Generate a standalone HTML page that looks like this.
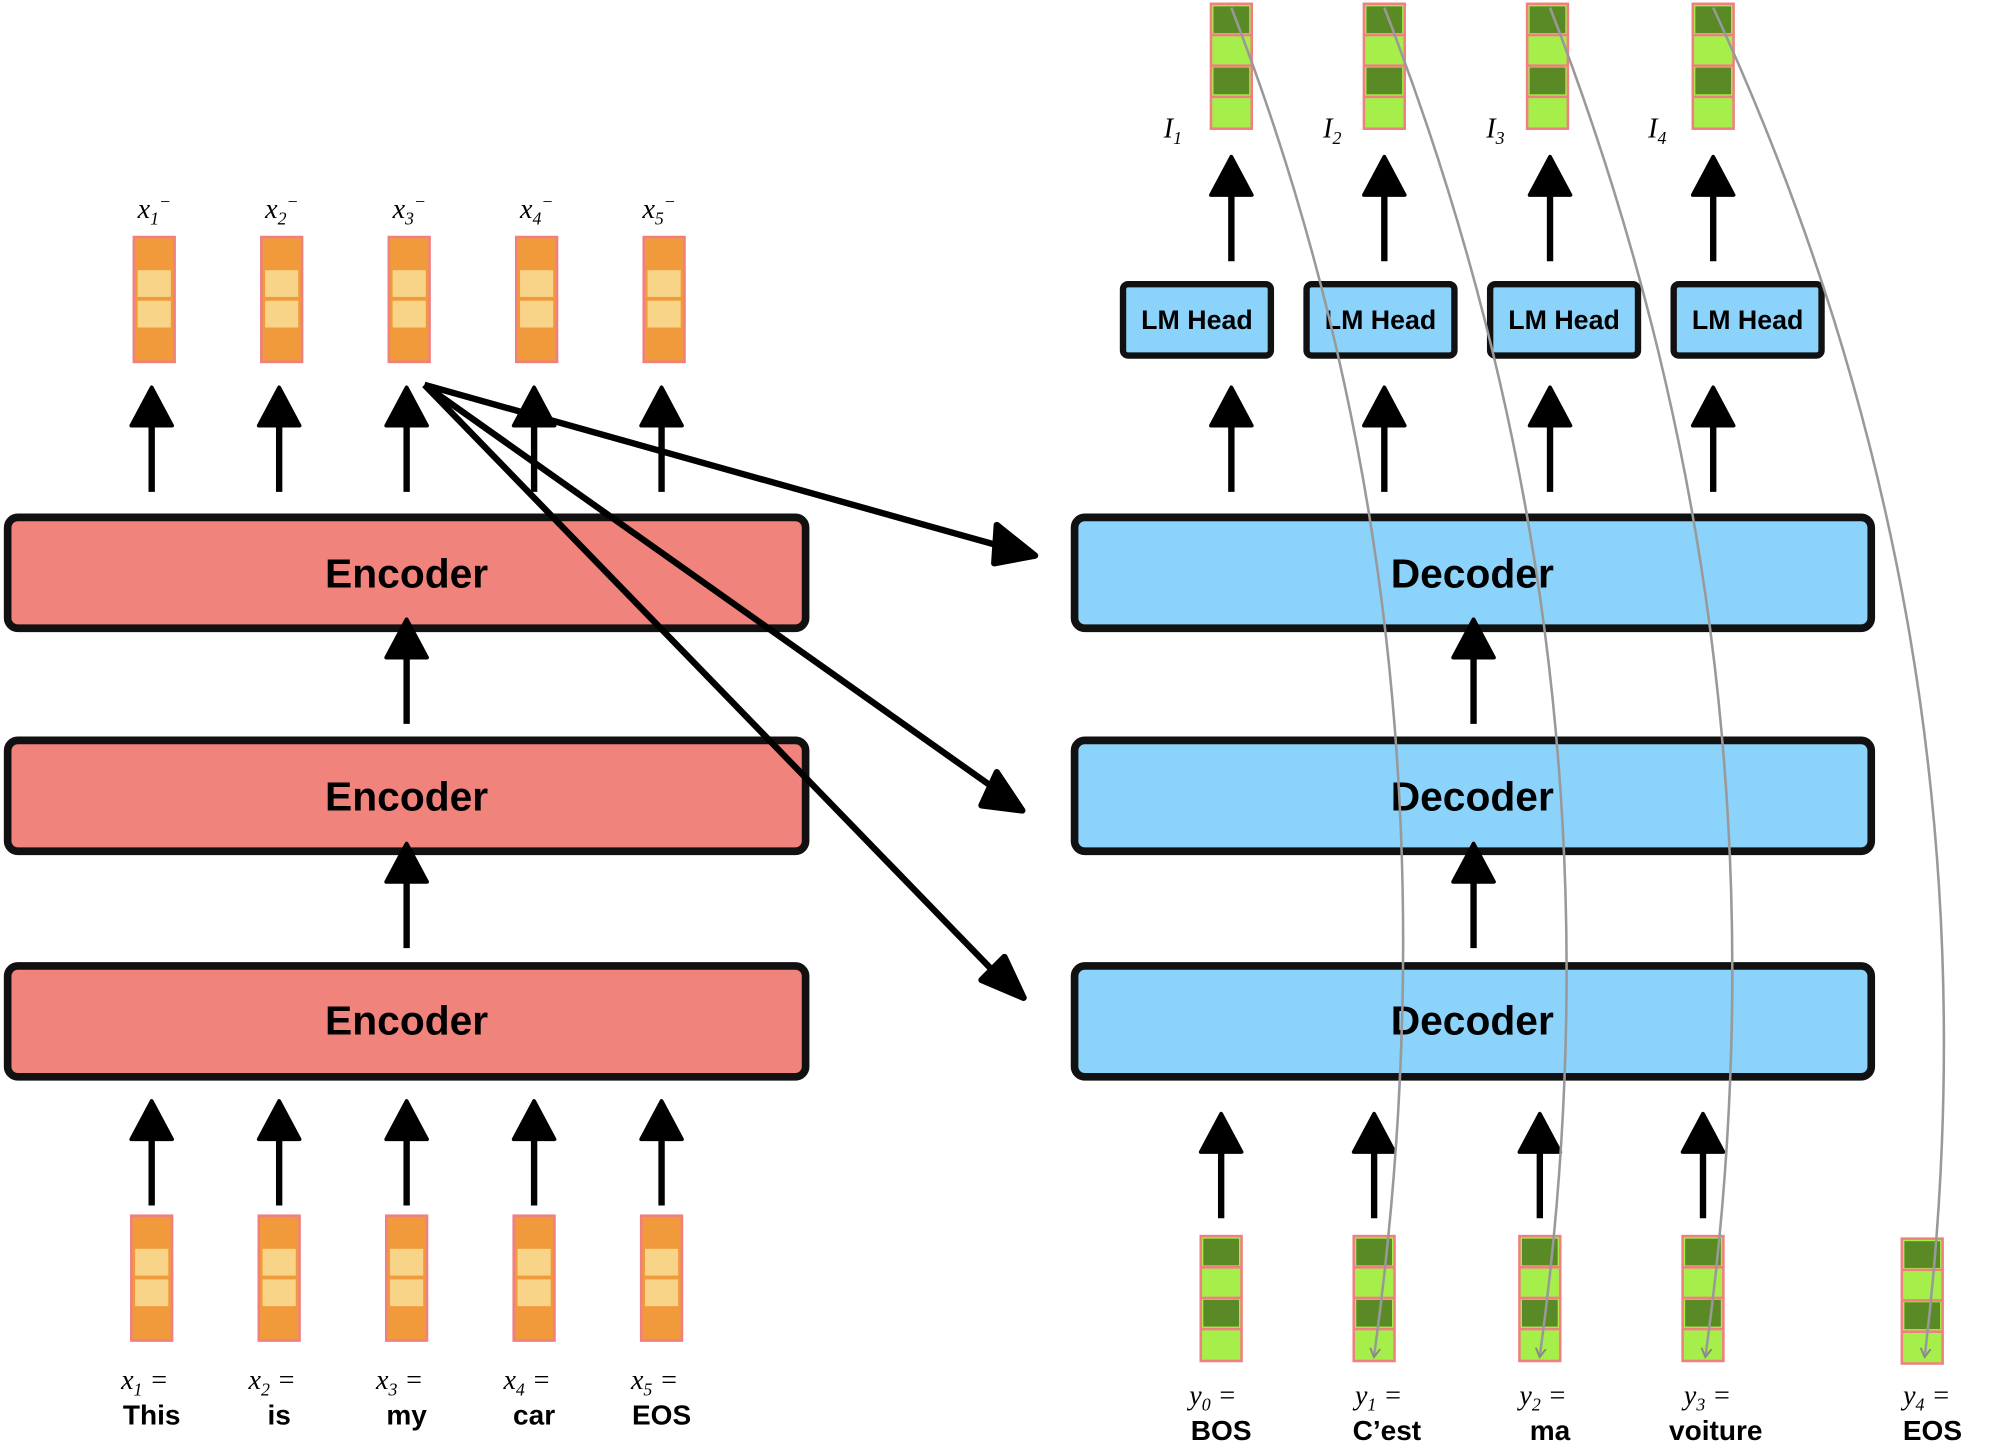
<!DOCTYPE html>
<html><head><meta charset="utf-8"><style>
html,body{margin:0;padding:0;background:#fff}
svg{display:block}
.b{font-family:"Liberation Sans","DejaVu Sans",sans-serif;font-weight:bold;fill:#000}
.m{font-family:"Liberation Serif",serif;font-style:italic;fill:#000}
</style></head><body>
<svg width="2000" height="1454" viewBox="0 0 1569 1141" preserveAspectRatio="none" xmlns="http://www.w3.org/2000/svg">
<defs>
<marker id="ga" markerWidth="8" markerHeight="10" refX="6" refY="5" orient="auto" markerUnits="userSpaceOnUse"><path d="M0,1 L7,5 L0,9" fill="none" stroke="#888" stroke-width="1.5"/></marker>
<g id="ov"><rect x="0" y="0" width="32" height="98" fill="#f09a3c" stroke="#f08080" stroke-width="2"/><rect x="3" y="26" width="26" height="21" fill="#f7d488"/><rect x="3" y="50" width="26" height="21" fill="#f7d488"/></g>
<g id="gv"><rect x="0" y="0" width="32" height="98" fill="#a6ef4a" stroke="#f08080" stroke-width="2"/><rect x="2" y="2" width="28" height="21" fill="#5a8a26"/><rect x="2" y="50" width="28" height="21" fill="#5a8a26"/><line x1="0" y1="24.5" x2="32" y2="24.5" stroke="#f08080" stroke-width="2"/><line x1="0" y1="48.5" x2="32" y2="48.5" stroke="#f08080" stroke-width="2"/><line x1="0" y1="73" x2="32" y2="73" stroke="#f08080" stroke-width="2"/></g>
<g id="up"><line x1="0" y1="0" x2="0" y2="-58" stroke="#000" stroke-width="5"/><path d="M-16,-52 L0,-82 L16,-52 z" fill="#000" stroke="#000" stroke-width="3" stroke-linejoin="round"/></g>
</defs>

<g stroke="#111" stroke-width="6" fill="#f0837c">
<rect x="6" y="406" width="626" height="87" rx="8"/>
<rect x="6" y="581" width="626" height="87" rx="8"/>
<rect x="6" y="758" width="626" height="87" rx="8"/>
</g>
<g class="b" font-size="32" text-anchor="middle">
<text x="319" y="461">Encoder</text><text x="319" y="636">Encoder</text><text x="319" y="812">Encoder</text>
</g>
<g stroke="#111" stroke-width="6" fill="#8bd3fa">
<rect x="843" y="406" width="625" height="87" rx="8"/>
<rect x="843" y="581" width="625" height="87" rx="8"/>
<rect x="843" y="758" width="625" height="87" rx="8"/>
</g>
<g class="b" font-size="32" text-anchor="middle">
<text x="1155" y="461">Decoder</text><text x="1155" y="636">Decoder</text><text x="1155" y="812">Decoder</text>
</g>
<g stroke="#111" stroke-width="5" fill="#8bd3fa">
<rect x="881" y="223" width="116" height="56" rx="4"/>
<rect x="1025" y="223" width="116" height="56" rx="4"/>
<rect x="1169" y="223" width="116" height="56" rx="4"/>
<rect x="1313" y="223" width="116" height="56" rx="4"/>
</g>
<g class="b" font-size="21" text-anchor="middle">
<text x="939" y="258">LM Head</text><text x="1083" y="258">LM Head</text><text x="1227" y="258">LM Head</text><text x="1371" y="258">LM Head</text>
</g>

<use href="#ov" x="105" y="186"/><use href="#ov" x="205" y="186"/><use href="#ov" x="305" y="186"/><use href="#ov" x="405" y="186"/><use href="#ov" x="505" y="186"/>
<use href="#ov" x="103" y="954"/><use href="#ov" x="203" y="954"/><use href="#ov" x="303" y="954"/><use href="#ov" x="403" y="954"/><use href="#ov" x="503" y="954"/>
<use href="#gv" x="950" y="3"/><use href="#gv" x="1070" y="3"/><use href="#gv" x="1198" y="3"/><use href="#gv" x="1328" y="3"/>
<use href="#gv" x="942" y="970"/><use href="#gv" x="1062" y="970"/><use href="#gv" x="1192" y="970"/><use href="#gv" x="1320" y="970"/><use href="#gv" x="1492" y="972"/>

<use href="#up" x="119" y="386"/><use href="#up" x="219" y="386"/><use href="#up" x="319" y="386"/><use href="#up" x="419" y="386"/><use href="#up" x="519" y="386"/>
<use href="#up" x="319" y="568"/><use href="#up" x="319" y="744"/>
<use href="#up" x="119" y="946"/><use href="#up" x="219" y="946"/><use href="#up" x="319" y="946"/><use href="#up" x="419" y="946"/><use href="#up" x="519" y="946"/>
<use href="#up" x="966" y="205"/><use href="#up" x="1086" y="205"/><use href="#up" x="1216" y="205"/><use href="#up" x="1344" y="205"/>
<use href="#up" x="966" y="386"/><use href="#up" x="1086" y="386"/><use href="#up" x="1216" y="386"/><use href="#up" x="1344" y="386"/>
<use href="#up" x="1156" y="568"/><use href="#up" x="1156" y="744"/>
<use href="#up" x="958" y="956"/><use href="#up" x="1078" y="956"/><use href="#up" x="1208" y="956"/><use href="#up" x="1336" y="956"/>

<g stroke="#000" stroke-width="5" fill="#000">
<line x1="333" y1="302" x2="790" y2="430"/>
<line x1="333" y1="302" x2="782" y2="620"/>
<line x1="333" y1="302" x2="785" y2="768"/>
<path d="M812,436 L782,412 L780,442 z" stroke-linejoin="round"/>
<path d="M802,636 L782,606 L770,632 z" stroke-linejoin="round"/>
<path d="M803,783 L788,751 L770,769 z" stroke-linejoin="round"/>
</g>

<g fill="none" stroke="#999" stroke-width="2" marker-end="url(#ga)">
<path d="M966,6 C1080,300 1135,650 1078,1064"/>
<path d="M1086,6 C1200,300 1265,650 1208,1064"/>
<path d="M1216,6 C1330,300 1395,650 1338,1064"/>
<path d="M1344,6 C1480,300 1560,650 1510,1064"/>
</g>

<g class="m" font-size="22">
<text x="108" y="171">x<tspan font-size="14" dy="5">1</tspan><tspan font-size="14" dy="-13">−</tspan></text>
<text x="208" y="171">x<tspan font-size="14" dy="5">2</tspan><tspan font-size="14" dy="-13">−</tspan></text>
<text x="308" y="171">x<tspan font-size="14" dy="5">3</tspan><tspan font-size="14" dy="-13">−</tspan></text>
<text x="408" y="171">x<tspan font-size="14" dy="5">4</tspan><tspan font-size="14" dy="-13">−</tspan></text>
<text x="504" y="171">x<tspan font-size="14" dy="5">5</tspan><tspan font-size="14" dy="-13">−</tspan></text>
<text x="913" y="108">I<tspan font-size="14" dy="5">1</tspan></text>
<text x="1038" y="108">I<tspan font-size="14" dy="5">2</tspan></text>
<text x="1166" y="108">I<tspan font-size="14" dy="5">3</tspan></text>
<text x="1293" y="108">I<tspan font-size="14" dy="5">4</tspan></text>
<text x="95" y="1090">x<tspan font-size="14" dy="5">1</tspan><tspan dy="-5"> =</tspan></text>
<text x="195" y="1090">x<tspan font-size="14" dy="5">2</tspan><tspan dy="-5"> =</tspan></text>
<text x="295" y="1090">x<tspan font-size="14" dy="5">3</tspan><tspan dy="-5"> =</tspan></text>
<text x="395" y="1090">x<tspan font-size="14" dy="5">4</tspan><tspan dy="-5"> =</tspan></text>
<text x="495" y="1090">x<tspan font-size="14" dy="5">5</tspan><tspan dy="-5"> =</tspan></text>
<text x="933" y="1102">y<tspan font-size="14" dy="5">0</tspan><tspan dy="-5"> =</tspan></text>
<text x="1063" y="1102">y<tspan font-size="14" dy="5">1</tspan><tspan dy="-5"> =</tspan></text>
<text x="1192" y="1102">y<tspan font-size="14" dy="5">2</tspan><tspan dy="-5"> =</tspan></text>
<text x="1321" y="1102">y<tspan font-size="14" dy="5">3</tspan><tspan dy="-5"> =</tspan></text>
<text x="1493" y="1102">y<tspan font-size="14" dy="5">4</tspan><tspan dy="-5"> =</tspan></text>
</g>
<g class="b" font-size="22" text-anchor="middle">
<text x="119" y="1118">This</text><text x="219" y="1118">is</text><text x="319" y="1118">my</text><text x="419" y="1118">car</text><text x="519" y="1118">EOS</text>
<text x="958" y="1130">BOS</text><text x="1088" y="1130">C’est</text><text x="1216" y="1130">ma</text><text x="1346" y="1130">voiture</text><text x="1516" y="1130">EOS</text>
</g>
</svg>
</body></html>
